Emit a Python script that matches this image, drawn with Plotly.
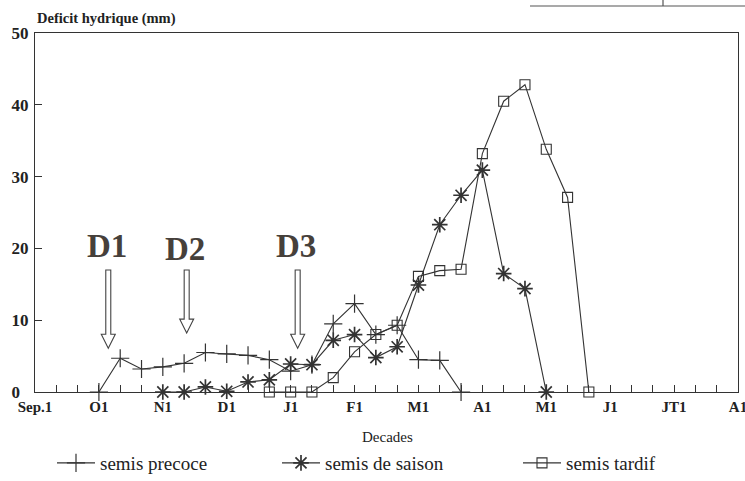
import plotly.graph_objects as go

# Decades counted from 1 September (0) to 1 August (33)
month_decades = [0, 3, 6, 9, 12, 15, 18, 21, 24, 27, 30, 33]
month_labels = ["Sep.1", "O1", "N1", "D1", "J1", "F1", "M1", "A1", "M1", "J1", "JT1", "A1"]

# Water deficit (mm) per decade for each sowing date
precoce_decades = list(range(3, 21))
precoce_values = [0, 4.7, 3.2, 3.5, 4.0, 5.5, 5.3, 5.1, 4.5, 2.9, 3.8, 9.5, 12.3, 8.0, 9.3, 4.5, 4.4, 0]

saison_decades = list(range(6, 25))
saison_values = [0, 0, 0.7, 0.1, 1.4, 1.7, 3.9, 3.8, 7.2, 8.0, 4.8, 6.3, 14.9, 23.3, 27.4, 30.9, 16.5, 14.4, 0]

tardif_decades = list(range(11, 27))
tardif_values = [0, 0, 0, 2.0, 5.6, 8.0, 9.3, 16.1, 16.9, 17.1, 33.2, 40.5, 42.8, 33.8, 27.1, 0]

# Sowing dates D1, D2, D3 (decade position, arrow tip value)
sowing_labels = ["D1", "D2", "D3"]
sowing_decades = [3.44, 7.12, 12.33]
sowing_tips = [6.1, 8.2, 6.1]

y_ticks = [0, 10, 20, 30, 40, 50]

INK = "#333333"
SERIF = "Liberation Serif, Times New Roman, serif"
W, H = 745, 481
L, R, T, B = 35, 7, 33, 89
PW, PH = W - L - R, H - T - B


def px_x(px):
    """Horizontal pixel position -> paper fraction."""
    return (px - L) / PW


def px_y(py):
    """Vertical pixel position (from top) -> paper fraction."""
    return (H - B - py) / PH


fig = go.Figure()

fig.add_trace(go.Scatter(
    x=precoce_decades, y=precoce_values, mode="lines+markers",
    name="semis precoce", legend="legend",
    line=dict(color=INK, width=1.1),
    marker=dict(symbol="cross-thin-open", size=13, line=dict(color=INK, width=1.2)),
    cliponaxis=False,
))
fig.add_trace(go.Scatter(
    x=saison_decades, y=saison_values, mode="lines+markers",
    name="semis de saison", legend="legend2",
    line=dict(color=INK, width=1.1),
    marker=dict(symbol="asterisk-open", size=13, line=dict(color="#222222", width=1.7)),
    cliponaxis=False,
))
fig.add_trace(go.Scatter(
    x=tardif_decades, y=tardif_values, mode="lines+markers",
    name="semis tardif", legend="legend3",
    line=dict(color=INK, width=1.1),
    marker=dict(symbol="square-open", size=10, line=dict(color=INK, width=1.1)),
    cliponaxis=False,
))

# Hollow arrows marking the sowing dates
shapes = []
head_h = 1.95   # arrowhead height in data units
top_val = 17.0
for xd, tip in zip(sowing_decades, sowing_tips):
    base = tip + head_h
    path = (f"M-2.5,{top_val} L-2.5,{base} L-7,{base} L0,{tip} "
            f"L7,{base} L2.5,{base} L2.5,{top_val} Z")
    shapes.append(dict(
        type="path", xref="x", yref="y", xsizemode="pixel", xanchor=xd,
        path=path, line=dict(color="#444444", width=1.1), fillcolor="white",
    ))

# Edge of the neighbouring table at the top of the page
shapes.append(dict(type="line", xref="paper", yref="paper",
                   x0=px_x(530), x1=px_x(745), y0=px_y(6), y1=px_y(6),
                   line=dict(color="#555555", width=1.2)))
shapes.append(dict(type="line", xref="paper", yref="paper",
                   x0=px_x(663), x1=px_x(663), y0=px_y(6), y1=px_y(-2),
                   line=dict(color="#555555", width=1.2)))

annotations = []
for lab, xd in zip(sowing_labels, sowing_decades):
    annotations.append(dict(
        x=xd - 0.08, y=20.3 if lab != "D2" else 19.9, xref="x", yref="y",
        text=f"<b>{lab}</b>", showarrow=False,
        font=dict(family=SERIF, size=33, color="#46403a"),
        xanchor="center", yanchor="middle",
    ))
annotations.append(dict(
    x=0, y=1, xref="paper", yref="paper", xanchor="left", yanchor="bottom",
    yshift=4, text="<b>Deficit hydrique (mm)</b>", showarrow=False,
    font=dict(family=SERIF, size=14.5, color="#222222"),
))
annotations.append(dict(
    x=px_x(387), y=px_y(437), xref="paper", yref="paper",
    xanchor="center", yanchor="middle", text="Decades", showarrow=False,
    font=dict(family=SERIF, size=15, color="#222222"),
))

tick_vals_x = list(range(0, 34))
tick_text_x = [month_labels[month_decades.index(d)] if d in month_decades else "" for d in tick_vals_x]
y_text = ["0\u2007" if v == 0 else str(v) for v in y_ticks]

legend_common = dict(
    orientation="h", xref="container", yref="container", y=(H - 463) / H, yanchor="middle",
    xanchor="left", bgcolor="rgba(0,0,0,0)", borderwidth=0,
    font=dict(family=SERIF, size=19, color="#222222"), itemwidth=38,
)

fig.update_layout(
    width=W, height=H,
    margin=dict(l=L, r=R, t=T, b=B, pad=0, autoexpand=False),
    paper_bgcolor="white", plot_bgcolor="white",
    showlegend=True,
    legend=dict(x=52 / W, **legend_common),
    legend2=dict(x=277 / W, **legend_common),
    legend3=dict(x=518 / W, **legend_common),
    xaxis=dict(
        range=[0, 33], tickmode="array", tickvals=tick_vals_x,
        ticktext=[f"<b>{t}</b>" if t else "" for t in tick_text_x],
        ticks="inside", ticklen=7, tickwidth=1.1, tickcolor=INK,
        showline=True, linecolor=INK, linewidth=1.3, mirror=True,
        showgrid=False, zeroline=False,
        tickfont=dict(family=SERIF, size=15, color="#222222"),
        tickangle=0, ticklabelstandoff=1, ticklabeloverflow="allow",
    ),
    yaxis=dict(
        range=[0, 50], tickmode="array", tickvals=y_ticks, ticktext=[f"<b>{t}</b>" for t in y_text],
        ticks="inside", ticklen=7, tickwidth=1.1, tickcolor=INK,
        showline=True, linecolor=INK, linewidth=1.3, mirror=True,
        showgrid=False, zeroline=False,
        tickfont=dict(family=SERIF, size=17, color="#222222"),
        ticklabelstandoff=2,
    ),
    shapes=shapes, annotations=annotations,
)

fig.write_html("out.html")
